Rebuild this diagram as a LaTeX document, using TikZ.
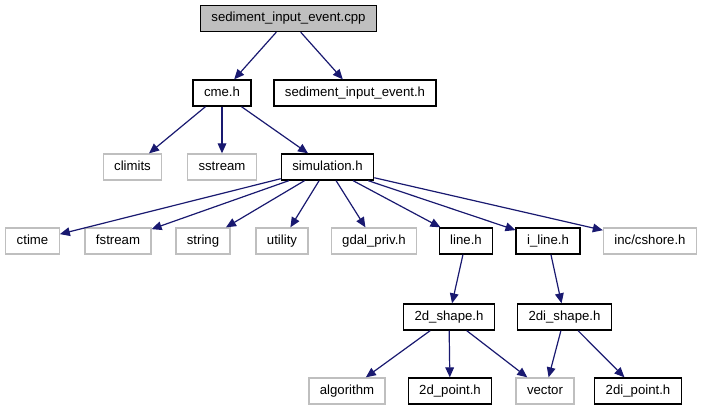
\documentclass[tikz,border=0pt]{standalone}
\usepackage{fontspec}
\setmainfont{Liberation Sans}
\usetikzlibrary{arrows.meta}
\definecolor{edgeblue}{HTML}{191970}
\definecolor{extgray}{HTML}{BFBFBF}

\begin{document}
\begin{tikzpicture}[>={Triangle[length=7.5pt,width=6.5pt]},x=0.75pt,y=-0.75pt,
  font=\fontsize{9.9}{11.8}\selectfont,
  file/.style={draw=black,line width=1pt,inner xsep=8.2pt,inner ysep=0pt,
    minimum height=19.5pt,text height=7.2pt,text depth=2.2pt},
  ext/.style={file,draw=extgray},
  dep/.style={->,edgeblue,line width=0.9pt}]
\useasboundingbox (0,0) rectangle (703,411);
% top level
\node[file,fill=extgray] (src) at (288.5,18.5) {sediment\_input\_event.cpp};
\node[file] (cme) at (222,93) {cme.h};
\node[file] (sieh) at (355,93) {sediment\_input\_event.h};
% what cme.h pulls in
\node[ext] (climits) at (132.5,167) {climits};
\node[ext] (sstream) at (222,167) {sstream};
\node[file] (sim) at (327.5,167) {simulation.h};
% what simulation.h pulls in
\node[ext] (ctime) at (32.5,241) {ctime};
\node[ext] (fstream) at (118,241) {fstream};
\node[ext] (string) at (203,241) {string};
\node[ext] (utility) at (282,241) {utility};
\node[ext] (gdal) at (374,241) {gdal\_priv.h};
\node[file] (line) at (466,241) {line.h};
\node[file] (iline) at (548,241) {i\_line.h};
\node[ext] (cshore) at (650,241) {inc/cshore.h};
% shapes and points
\node[file] (shape) at (449,317) {2d\_shape.h};
\node[file] (ishape) at (564.5,317) {2di\_shape.h};
\node[ext] (algorithm) at (347,391) {algorithm};
\node[file] (point) at (450,391) {2d\_point.h};
\node[ext] (vector) at (545,391) {vector};
\node[file] (ipoint) at (638,391) {2di\_point.h};

\draw[dep] (src) -- (cme);
\draw[dep] (src) -- (sieh);
\draw[dep] (cme) -- (climits);
\draw[dep] (cme) -- (sstream);
\draw[dep] (cme) -- (sim);
\foreach \t in {ctime,fstream,string,utility,gdal,line,iline,cshore}
  \draw[dep] (sim) -- (\t);
\draw[dep] (line) -- (shape);
\draw[dep] (iline) -- (ishape);
\draw[dep] (shape) -- (algorithm);
\draw[dep] (shape) -- (point);
\draw[dep] (shape) -- (vector);
\draw[dep] (ishape) -- (vector);
\draw[dep] (ishape) -- (ipoint);
\end{tikzpicture}
\end{document}
